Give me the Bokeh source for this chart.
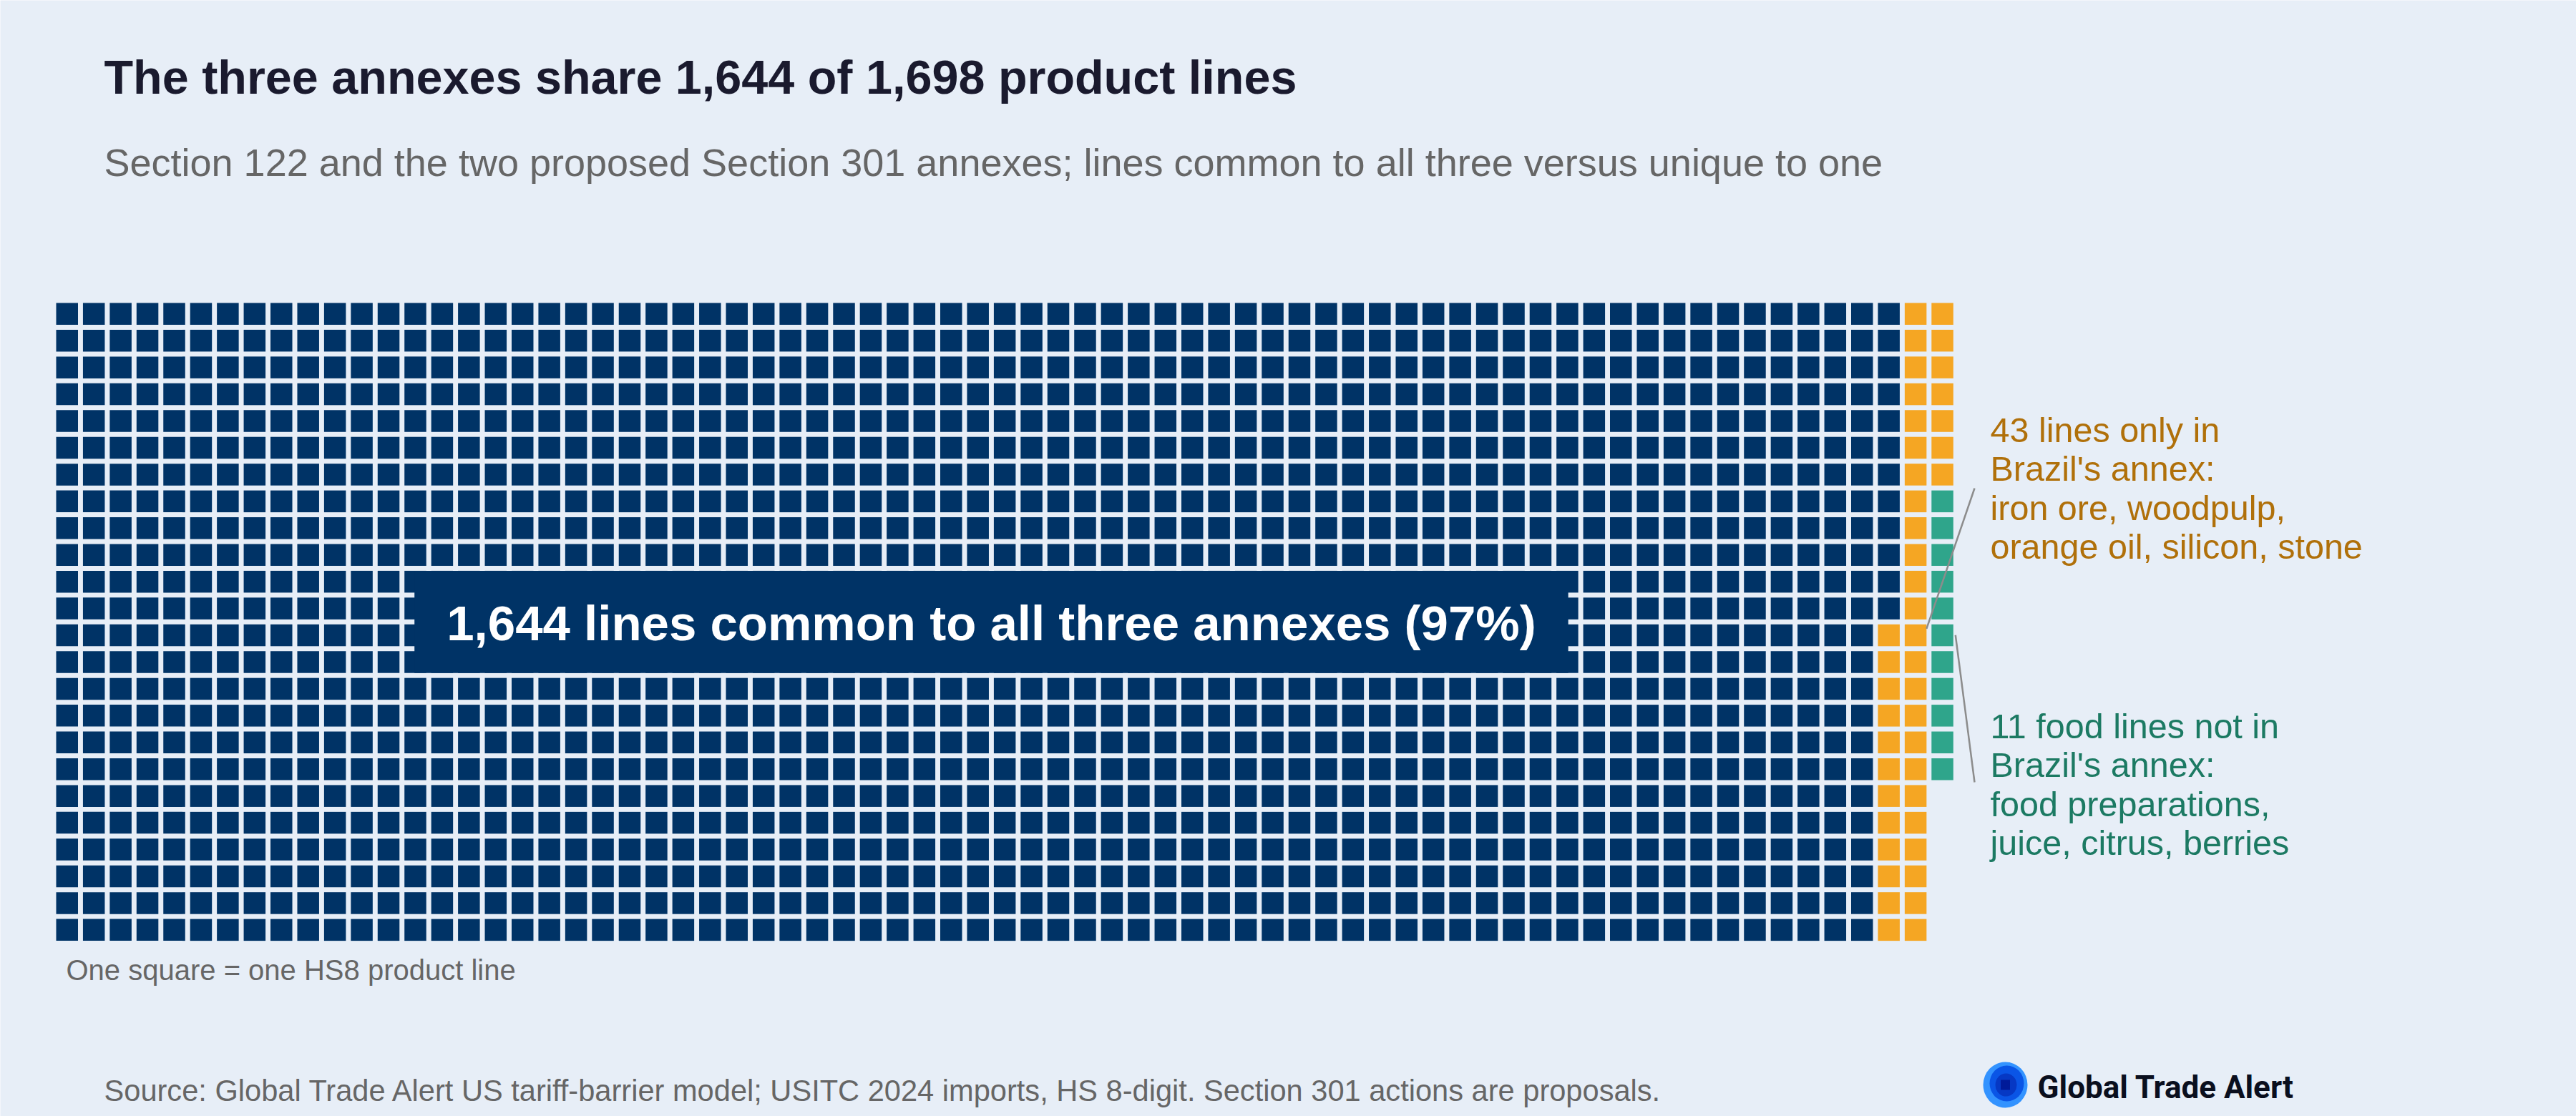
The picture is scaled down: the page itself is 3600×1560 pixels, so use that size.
from bokeh.plotting import figure
from bokeh.models import Range1d, ColumnDataSource
from bokeh.core.properties import value
from bokeh.embed import file_html
from bokeh.resources import INLINE

# ---------------- data ----------------
categories = ["Common to all three annexes", "Only in Brazil's annex", "Food lines not in Brazil's annex"]
counts = [1644, 43, 11]
colors = ["#003366", "#F5A623", "#2FA58B"]

title_text = "The three annexes share {:,} of {:,} product lines".format(counts[0], sum(counts))
subtitle_text = "Section 122 and the two proposed Section 301 annexes; lines common to all three versus unique to one"
unit_note = "One square = one HS8 product line"
source_text = "Source: Global Trade Alert US tariff-barrier model; USITC 2024 imports, HS 8-digit. Section 301 actions are proposals."
brazil_lines = ["{} lines only in".format(counts[1]), "Brazil's annex:", "iron ore, woodpulp,", "orange oil, silicon, stone"]
food_lines = ["{} food lines not in".format(counts[2]), "Brazil's annex:", "food preparations,", "juice, citrus, berries"]

# ---------------- layout constants ----------------
W, H = 3600, 1560
BG = "#E7EEF7"
N_ROWS = 24
X0, Y0 = 78.0, 423.0      # top-left of the waffle
PITCH = 37.44
SIZE = 30.5
FONT = "Liberation Sans"
SHIFT = 0.3               # baseline correction (fraction of font size)

p = figure(width=W, height=H, output_backend="svg", toolbar_location=None,
           x_range=Range1d(0, W), y_range=Range1d(H, 0), min_border=0,
           background_fill_color=BG, border_fill_color=BG, outline_line_color=None)
p.axis.visible = False
p.xgrid.visible = False
p.ygrid.visible = False


def label(x, y, texts, size, color, bold=False, font=FONT, align="left"):
    if not isinstance(texts, list):
        texts = [texts]
    if not isinstance(y, list):
        y = [y]
    if not isinstance(x, list):
        x = [x] * len(texts)
    p.text(x=x, y=[v - SHIFT * size for v in y], text=texts, text_font=value(font),
           text_font_style="bold" if bold else "normal", text_font_size="{}px".format(size),
           text_color=color, text_align=align, text_baseline="alphabetic")


# ---------------- waffle squares (column-major, top to bottom) ----------------
xs, ys, fills, cats = [], [], [], []
idx = 0
for cat, n, c in zip(categories, counts, colors):
    for _ in range(n):
        col, row = divmod(idx, N_ROWS)
        xs.append(X0 + col * PITCH + SIZE / 2)
        ys.append(Y0 + row * PITCH + SIZE / 2)
        fills.append(c)
        cats.append(cat)
        idx += 1
src = ColumnDataSource(dict(x=xs, y=ys, fill=fills, cat=cats))
p.rect(x="x", y="y", width=SIZE, height=SIZE, fill_color="fill", line_color=None, source=src)


def cell_left(col):
    return X0 + col * PITCH


def cell_top(row):
    return Y0 + row * PITCH


# ---------------- central label box ----------------
box_c0, box_c1, box_r0, box_r1 = 13, 56, 10, 13
bx0, bx1 = cell_left(box_c0) + 14, cell_left(box_c1) + SIZE - 14
by0, by1 = cell_top(box_r0), cell_top(box_r1) + SIZE
p.quad(left=[bx0], right=[bx1], top=[by0], bottom=[by1], fill_color=colors[0], line_color=None)
pct = round(100 * counts[0] / sum(counts))
label((bx0 + bx1) / 2, (by0 + by1) / 2 + 23,
      "{:,} lines common to all three annexes ({}%)".format(counts[0], pct),
      69, "white", bold=True, align="center")

# ---------------- titles ----------------
label(145, 127, title_text, 66.5, "#1A1A2E", bold=True)
label(145, 243, subtitle_text, 54, "#666666")

# ---------------- notes ----------------
label(92, 1367, unit_note, 40, "#666666")
label(145, 1536, source_text, 41.6, "#666666")

# ---------------- side annotations ----------------
TX = 2781
LH = 54.5
label(TX, [615 + i * LH for i in range(4)], brazil_lines, 48.5, "#B0700A")
label(TX, [1029 + i * LH for i in range(4)], food_lines, 48.5, "#1C7A63")

# leader lines
p.segment(x0=[TX - 22], y0=[682], x1=[cell_left(69) + SIZE], y1=[cell_top(12) + 6],
          line_color="#8C8C8C", line_width=2.5)
p.segment(x0=[cell_left(70) + SIZE + 3], y0=[cell_top(12) + 15], x1=[TX - 22], y1=[1093],
          line_color="#8C8C8C", line_width=2.5)

# ---------------- logo ----------------
LX, LY = 2802, 1516
p.ellipse(x=[LX], y=[LY], width=[62], height=[64], fill_color="#3393FF", line_color=None)
p.ellipse(x=[LX + 2], y=[LY - 2], width=[48], height=[50], fill_color="#0A55E6", line_color=None)
p.ellipse(x=[LX + 1], y=[LY], width=[30], height=[32], fill_color="#0638C4", line_color=None)
p.rect(x=[LX], y=[LY], width=[13], height=[14], fill_color="#001A99", line_color=None)
label(2847, 1533, "Global Trade Alert", 44, "#0A0F1E", bold=True, font="Roboto")

open("out.html", "w").write(file_html(p, INLINE))
